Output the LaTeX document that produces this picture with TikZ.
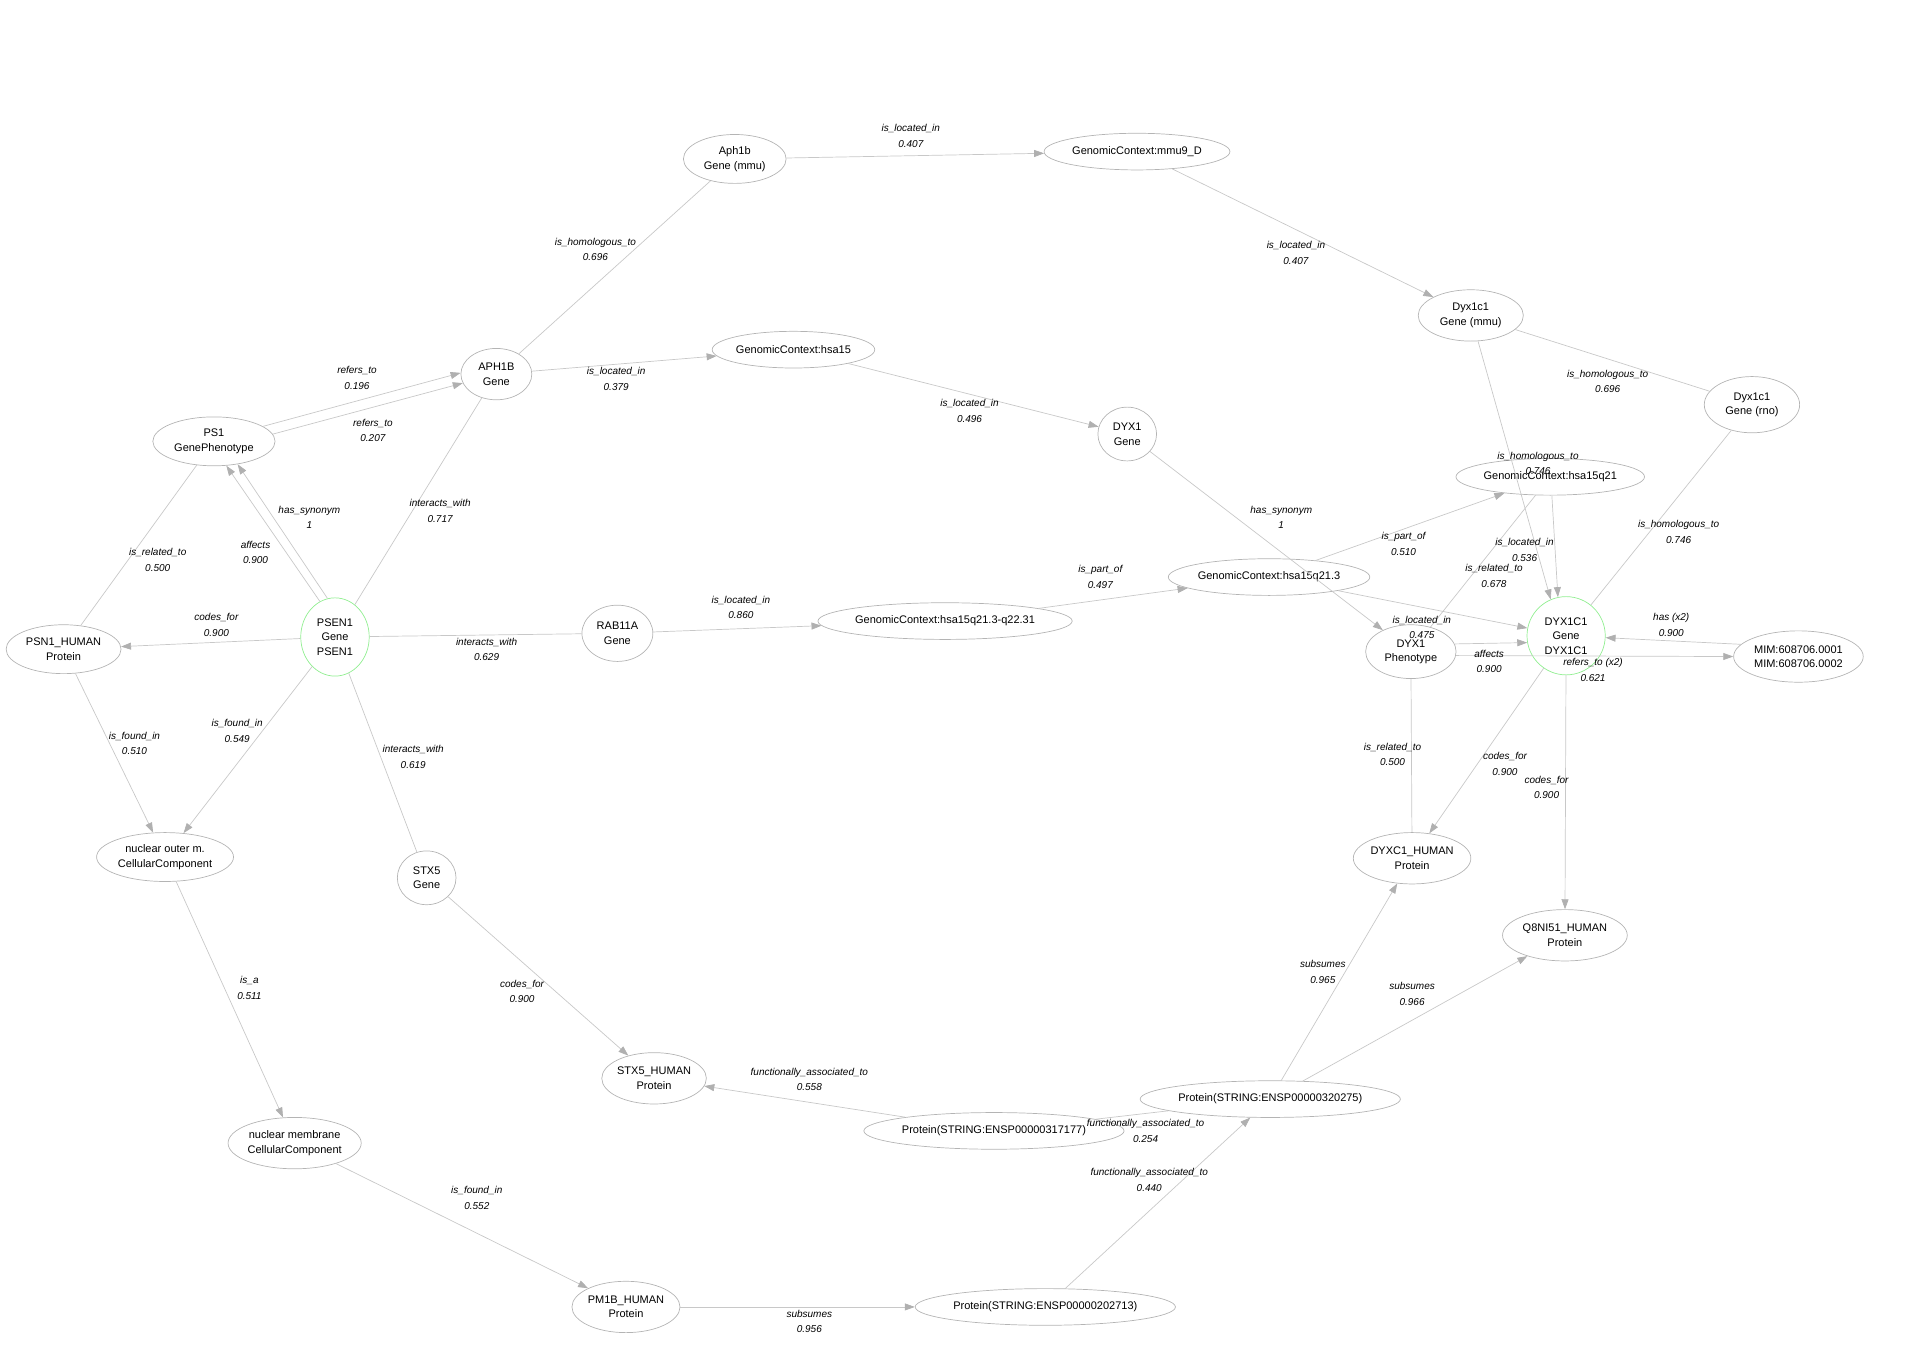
\documentclass[tikz,border=0pt]{standalone}
\usepackage{fontspec}
\setmainfont{Liberation Sans}
\usetikzlibrary{shapes.geometric,arrows.meta}
\definecolor{nodegray}{HTML}{B4B4B4}
\definecolor{edgegray}{HTML}{C8C8C8}
\definecolor{arrowgray}{HTML}{B0B0B0}
\definecolor{hubgreen}{HTML}{90EE90}
\begin{document}
\begin{tikzpicture}[x=1.2226pt,y=-1.2226pt,
  nd/.style 2 args={ellipse,draw=nodegray,line width=0.7pt,minimum width=#1*1.2226pt,minimum height=#2*1.2226pt,inner sep=0pt,align=center,font=\fontsize{11}{14.5}\selectfont},
  hub/.style={draw=hubgreen},
  conn/.style={draw=edgegray,line width=0.7pt},
  arr/.style={conn,-{Triangle[length=10pt,width=7pt,color=arrowgray]}},
  lab/.style={align=center,font=\fontsize{10}{15.5}\selectfont\itshape,inner sep=0pt}]
\useasboundingbox (0,0) rectangle (1568,1107);
% nodes
\node[nd={84}{40}] (aph1b) at (601,130) {Aph1b\\Gene (mmu)};
\node[nd={152}{30}] (mmu9) at (930,124) {GenomicContext:mmu9\_D};
\node[nd={86}{42}] (dxm) at (1203,258) {Dyx1c1\\Gene (mmu)};
\node[nd={78}{46}] (dxr) at (1433,331) {Dyx1c1\\Gene (rno)};
\node[nd={58}{42}] (aph1B) at (406,306) {APH1B\\Gene};
\node[nd={128}{30}] (h15) at (649,286) {GenomicContext:hsa15};
\node[nd={100}{40}] (ps1) at (175,361) {PS1\\GenePhenotype};
\node[nd={48}{44}] (dyx1) at (922,355) {DYX1\\Gene};
\node[nd={144}{30}] (q21) at (1268,390) {GenomicContext:hsa15q21};
\node[nd={56}{64},hub] (psen1) at (274,521) {PSEN1\\Gene\\PSEN1};
\node[nd={94}{40}] (psn1h) at (52,531) {PSN1\_HUMAN\\Protein};
\node[nd={58}{46}] (rab) at (505,518) {RAB11A\\Gene};
\node[nd={166}{30}] (q2231) at (773,508) {GenomicContext:hsa15q21.3-q22.31};
\node[nd={142}{30}] (q213) at (1038,472) {GenomicContext:hsa15q21.3};
\node[nd={74}{44}] (dph) at (1154,533) {DYX1\\Phenotype};
\node[nd={64}{64},hub] (dyx1c1) at (1281,520) {DYX1C1\\Gene\\DYX1C1};
\node[nd={106}{42}] (mim) at (1471,537) {MIM:608706.0001\\MIM:608706.0002};
\node[nd={112}{40}] (nom) at (135,701) {nuclear outer m.\\CellularComponent};
\node[nd={48}{44}] (stx5) at (349,718) {STX5\\Gene};
\node[nd={94}{42}] (dxh) at (1155,702) {DYXC1\_HUMAN\\Protein};
\node[nd={102}{42}] (q8n) at (1280,765) {Q8NI51\_HUMAN\\Protein};
\node[nd={82}{42}] (stx5h) at (535,882) {STX5\_HUMAN\\Protein};
\node[nd={184}{30}] (p317) at (813,925) {Protein(STRING:ENSP00000317177)};
\node[nd={164}{30}] (p320) at (1039,899) {Protein(STRING:ENSP00000320275)};
\node[nd={106}{42}] (nmem) at (241,935) {nuclear membrane\\CellularComponent};
\node[nd={78}{42}] (pm1b) at (512,1069) {PM1B\_HUMAN\\Protein};
\node[nd={164}{30}] (p202) at (855,1069) {Protein(STRING:ENSP00000202713)};
% edges
\draw[conn] (aph1B) -- (aph1b);
\draw[arr] (aph1b) -- (mmu9);
\draw[arr] (mmu9) -- (dxm);
\draw[conn] (dxm) -- (dxr);
\draw[arr] (dxm) -- (dyx1c1.113);
\draw[conn] (dxr) -- (dyx1c1);
\draw[arr] (aph1B) -- (h15);
\draw[arr] (h15) -- (dyx1);
\draw[arr] (dyx1) -- (dph);
\draw[arr] (ps1.17) -- (aph1B.178);
\draw[arr] (ps1.7) -- (aph1B.195);
\draw[arr] (psen1.113) -- (ps1.-63);
\draw[arr] (psen1.101) -- (ps1.-44);
\draw[conn] (psn1h) -- (ps1);
\draw[conn] (psen1) -- (aph1B);
\draw[arr] (psen1) -- (psn1h);
\draw[conn] (psen1) -- (rab);
\draw[conn] (psen1) -- (stx5);
\draw[arr] (psen1) -- (nom);
\draw[arr] (psn1h) -- (nom);
\draw[arr] (rab) -- (q2231);
\draw[arr] (q2231) -- (q213);
\draw[arr] (q213) -- (q21);
\draw[arr] (q21.-85) -- (dyx1c1.102);
\draw[conn] (q21) -- (dph);
\draw[arr] (q213) -- (dyx1c1);
\draw[arr] (dph.10) -- (dyx1c1.190);
\draw[arr] (dph.-5) -- (mim.180);
\draw[arr] (mim.168) -- (dyx1c1);
\draw[conn] (dph) -- (dxh);
\draw[arr] (dyx1c1) -- (dxh);
\draw[arr] (dyx1c1) -- (q8n);
\draw[arr] (nom) -- (nmem);
\draw[arr] (nmem) -- (pm1b);
\draw[arr] (stx5) -- (stx5h);
\draw[arr] (p317) -- (stx5h);
\draw[conn] (p317) -- (p320);
\draw[arr] (p202) -- (p320);
\draw[arr] (pm1b) -- (p202);
\draw[arr] (p320) -- (dxh);
\draw[arr] (p320) -- (q8n);
% edge labels
\node[lab] (l1) at (487,204) {is\_homologous\_to\\0.696};
\node[lab] (l2) at (745,111) {is\_located\_in\\0.407};
\node[lab] (l3) at (1060,207) {is\_located\_in\\0.407};
\node[lab] (l4) at (1315,312) {is\_homologous\_to\\0.696};
\node[lab] (l5) at (1258,379) {is\_homologous\_to\\0.746};
\node[lab] (l6) at (1373,435) {is\_homologous\_to\\0.746};
\node[lab] (l7) at (292,309) {refers\_to\\0.196};
\node[lab] (l8) at (305,352) {refers\_to\\0.207};
\node[lab] (l9) at (504,310) {is\_located\_in\\0.379};
\node[lab] (l10) at (793,336) {is\_located\_in\\0.496};
\node[lab] (l11) at (253,423) {has\_synonym\\1};
\node[lab] (l12) at (209,452) {affects\\0.900};
\node[lab] (l13) at (129,458) {is\_related\_to\\0.500};
\node[lab] (l14) at (360,418) {interacts\_with\\0.717};
\node[lab] (l15) at (1048,423) {has\_synonym\\1};
\node[lab] (l16) at (1148,445) {is\_part\_of\\0.510};
\node[lab] (l17) at (1247,450) {is\_located\_in\\0.536};
\node[lab] (l18) at (1222,471) {is\_related\_to\\0.678};
\node[lab] (l19) at (900,472) {is\_part\_of\\0.497};
\node[lab] (l20) at (177,511) {codes\_for\\0.900};
\node[lab] (l21) at (606,497) {is\_located\_in\\0.860};
\node[lab] (l22) at (398,531) {interacts\_with\\0.629};
\node[lab] (l23) at (1163,513) {is\_located\_in\\0.475};
\node[lab] (l24) at (1367,511) {has (x2)\\0.900};
\node[lab] (l25) at (1218,541) {affects\\0.900};
\node[lab] (l26) at (1303,548) {refers\_to (x2)\\0.621};
\node[lab] (l27) at (110,608) {is\_found\_in\\0.510};
\node[lab] (l28) at (194,598) {is\_found\_in\\0.549};
\node[lab] (l29) at (338,619) {interacts\_with\\0.619};
\node[lab] (l30) at (1139,617) {is\_related\_to\\0.500};
\node[lab] (l31) at (1231,625) {codes\_for\\0.900};
\node[lab] (l32) at (1265,644) {codes\_for\\0.900};
\node[lab] (l33) at (204,808) {is\_a\\0.511};
\node[lab] (l34) at (427,811) {codes\_for\\0.900};
\node[lab] (l35) at (1082,795) {subsumes\\0.965};
\node[lab] (l36) at (1155,813) {subsumes\\0.966};
\node[lab] (l37) at (662,883) {functionally\_associated\_to\\0.558};
\node[lab] (l38) at (937,925) {functionally\_associated\_to\\0.254};
\node[lab] (l39) at (940,965) {functionally\_associated\_to\\0.440};
\node[lab] (l40) at (390,980) {is\_found\_in\\0.552};
\node[lab] (l41) at (662,1081) {subsumes\\0.956};
\end{tikzpicture}
\end{document}
